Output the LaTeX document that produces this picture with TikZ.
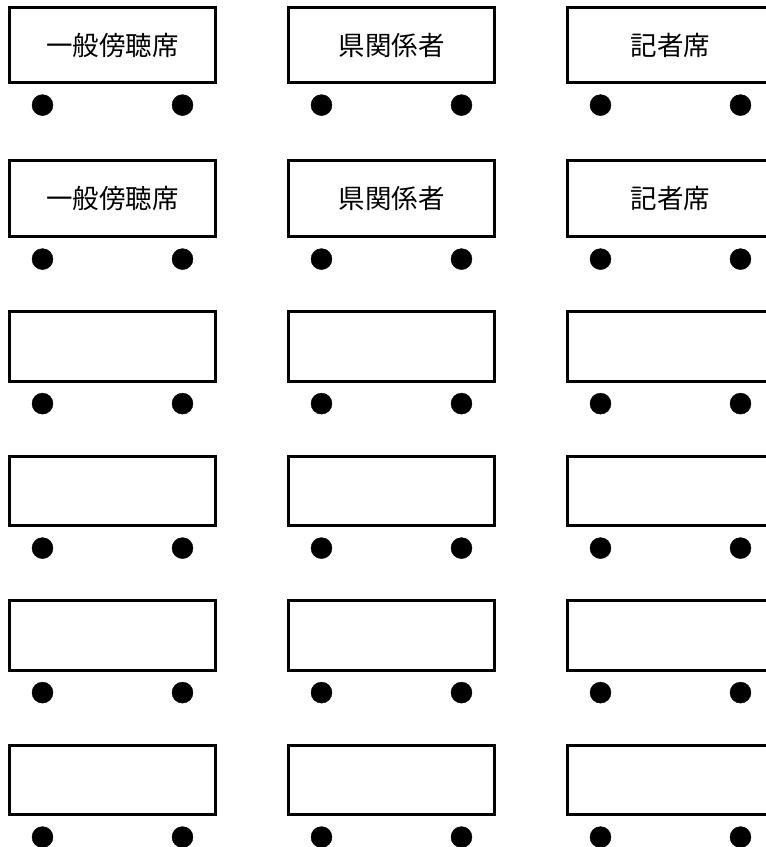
\documentclass[tikz,border=0pt]{standalone}
\usepackage{fontspec}
\newfontfamily\jpfont{Noto Sans CJK JP}
\tikzset{
	seat/.style={draw, line width=2.7pt, minimum width=206pt, inner sep=0pt, font=\jpfont\fontsize{26.5}{26.5}\selectfont},
	wheel/.style={fill=black}
}
\begin{document}
\begin{tikzpicture}[x=1pt,y=-1pt]
		\useasboundingbox (0,0) rectangle (766,847);
		% upper two rows, with labels
		\node[seat, minimum height=75.5pt] (g1) at (112.5,45) {一般傍聴席};
		\node[seat, minimum height=75.5pt] (k1) at (391.5,45) {県関係者};
		\node[seat, minimum height=75.5pt] (p1) at (670.5,45) {記者席};
		\node[seat, minimum height=76.5pt] (g2) at (112.5,198.5) {一般傍聴席};
		\node[seat, minimum height=76.5pt] (k2) at (391.5,198.5) {県関係者};
		\node[seat, minimum height=76.5pt] (p2) at (670.5,198.5) {記者席};
		% empty rows
		\foreach \r/\y in {3/346.5, 4/491, 5/635.5, 6/780} {
			\node[seat, minimum height=69.5pt] (g\r) at (112.5,\y) {};
			\node[seat, minimum height=69.5pt] (k\r) at (391.5,\y) {};
			\node[seat, minimum height=69.5pt] (p\r) at (670.5,\y) {};
		}
		% wheels under each box
		\foreach \r in {1,...,6} {
			\foreach \c in {g,k,p} {
				\draw[wheel] ([xshift=-70pt,yshift=-21pt]\c\r.south) circle (10.5pt);
				\draw[wheel] ([xshift=70pt,yshift=-21pt]\c\r.south) circle (10.5pt);
			}
		}
\end{tikzpicture}
\end{document}
